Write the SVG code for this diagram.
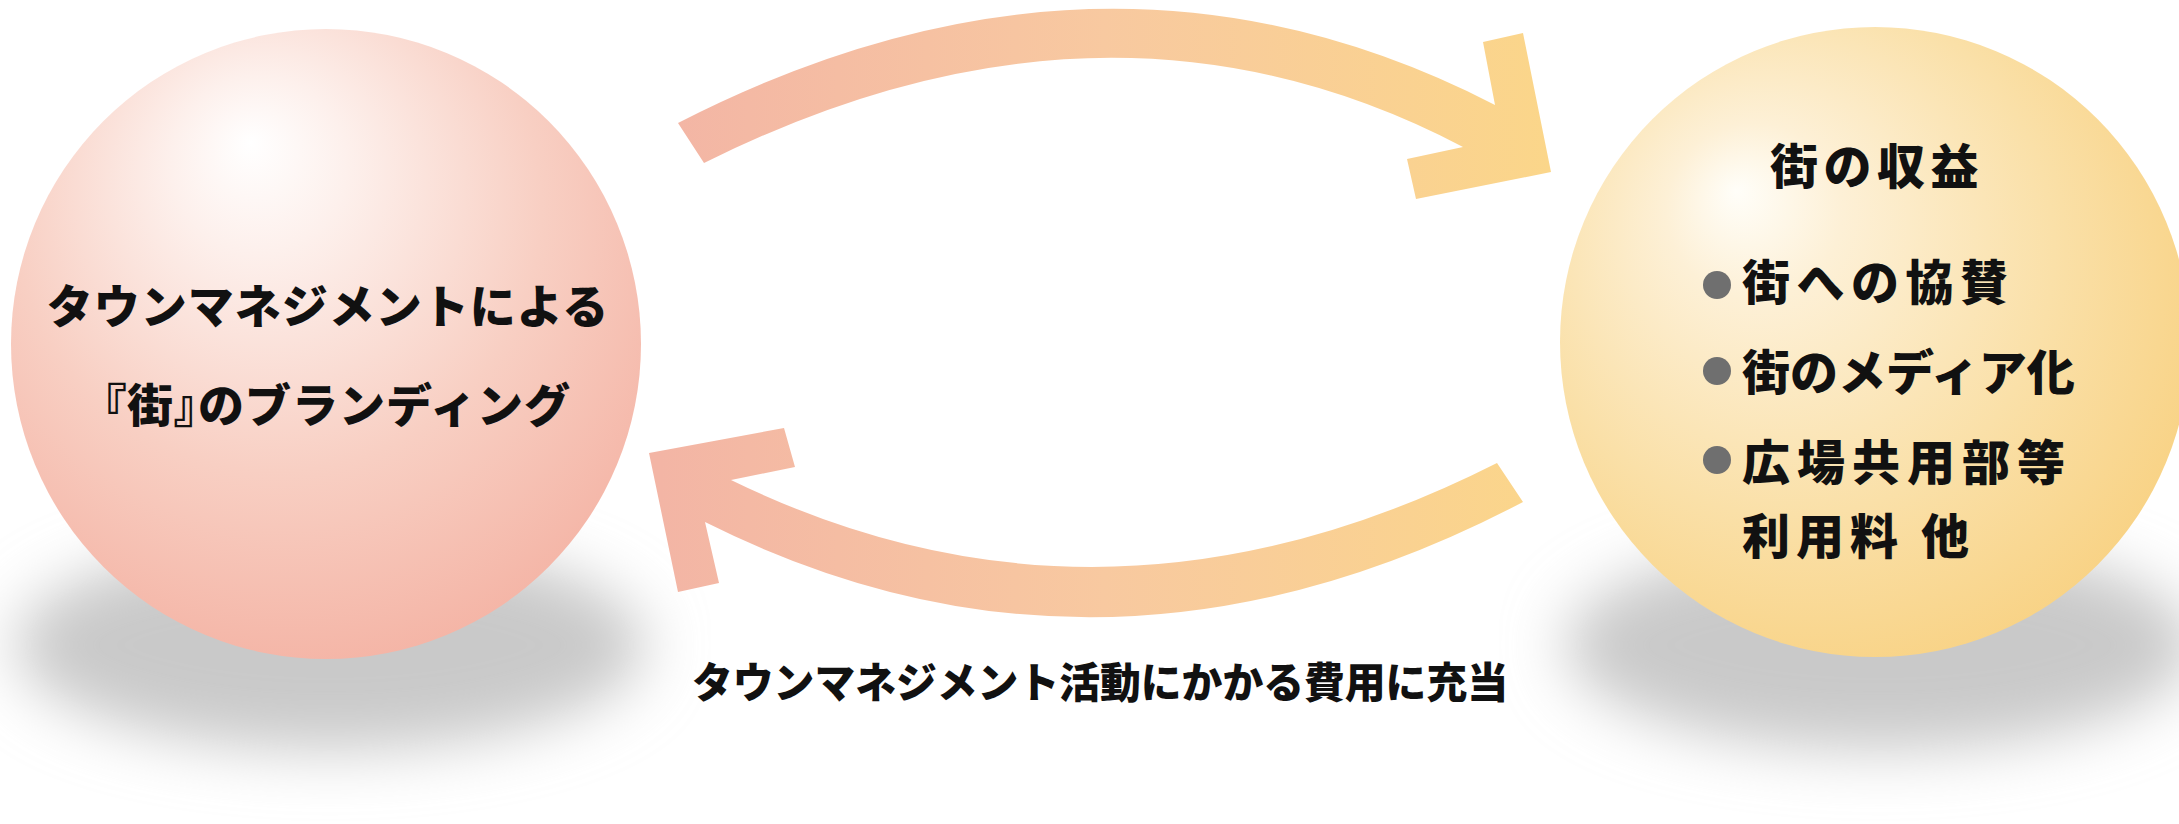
<svg xmlns="http://www.w3.org/2000/svg" width="2179" height="824" viewBox="0 0 2179 824">
<style>
.t { font-family: "Noto Sans CJK JP", "Noto Sans CJK SC", sans-serif; font-weight: 900; fill: #111111; }
.big { font-size: 46px; }
.rt { font-size: 48px; }
.lbl { font-size: 42px; }
.palt { font-feature-settings: "palt" 1; }
.bullet { fill: #6f6f6f; }
.shadow { fill: #c9c9c9; filter: url(#soft); }
</style>
<defs>
  <radialGradient id="gPink" cx="0.45" cy="0.35" r="0.7" fx="0.38" fy="0.18">
    <stop offset="0" stop-color="#ffffff"/>
    <stop offset="0.2" stop-color="#fdf0ec"/>
    <stop offset="0.6" stop-color="#f8cfc3"/>
    <stop offset="1" stop-color="#f4b2a3"/>
  </radialGradient>
  <radialGradient id="gGold" cx="0.42" cy="0.42" r="0.7" fx="0.28" fy="0.26">
    <stop offset="0" stop-color="#fffef9"/>
    <stop offset="0.2" stop-color="#fdf0d6"/>
    <stop offset="0.6" stop-color="#fae0a8"/>
    <stop offset="1" stop-color="#f8cf7c"/>
  </radialGradient>
  <linearGradient id="gArrow" gradientUnits="userSpaceOnUse" x1="660" y1="0" x2="1550" y2="0">
    <stop offset="0" stop-color="#f3b5a5"/>
    <stop offset="0.5" stop-color="#f8c9a0"/>
    <stop offset="1" stop-color="#fbd68a"/>
  </linearGradient>
  <filter id="soft" x="-30%" y="-60%" width="160%" height="220%">
    <feGaussianBlur stdDeviation="30"/>
  </filter>
</defs>
<rect width="2179" height="824" fill="#ffffff"/>

<g id="node-branding">
  <ellipse class="shadow" cx="330" cy="645" rx="315" ry="105"/>
  <circle cx="326" cy="344" r="315" fill="url(#gPink)"/>
  <text class="t big" x="328" y="323" text-anchor="middle" letter-spacing="1">タウンマネジメントによる</text>
  <text class="t big" x="337" y="422" text-anchor="middle" letter-spacing="1"><tspan class="palt">『</tspan>街<tspan class="palt">』</tspan>のブランディング</text>
</g>

<g id="node-revenue">
  <ellipse class="shadow" cx="1880" cy="645" rx="315" ry="105"/>
  <circle cx="1875" cy="342" r="315" fill="url(#gGold)"/>
  <text class="t rt" x="1770" y="184" letter-spacing="5.5">街の収益</text>
  <circle class="bullet" cx="1717" cy="285" r="14"/>
  <text class="t rt" x="1742" y="300" letter-spacing="6.5">街への協賛</text>
  <circle class="bullet" cx="1717" cy="371" r="14"/>
  <text class="t rt" x="1742" y="390" letter-spacing="0">街のメディア化</text>
  <circle class="bullet" cx="1717" cy="460" r="14"/>
  <text class="t rt" x="1742" y="480" letter-spacing="7">広場共用部等</text>
  <text class="t rt" x="1742" y="554" letter-spacing="6">利用料 他</text>
</g>

<g id="connectors">
  <path id="arrow-top" fill="url(#gArrow)" d="M 678,123 Q 1105,-96 1495,105 L 1483,42 L 1523,33 L 1551,172 L 1416,199 L 1407,159 L 1463,147 Q 1108,-39 704,163 Z"/>
  <path id="arrow-bottom" fill="url(#gArrow)" d="M 1497,463 Q 1104,662 731,480 L 795,467 L 784,428 L 649,453 L 678,592 L 719,583 L 705,522 Q 1104,722 1523,502 Z"/>
</g>

<g id="label-cost">
  <text class="t lbl" x="692" y="698" textLength="816" lengthAdjust="spacingAndGlyphs">タウンマネジメント活動にかかる費用に充当</text>
</g>
</svg>
